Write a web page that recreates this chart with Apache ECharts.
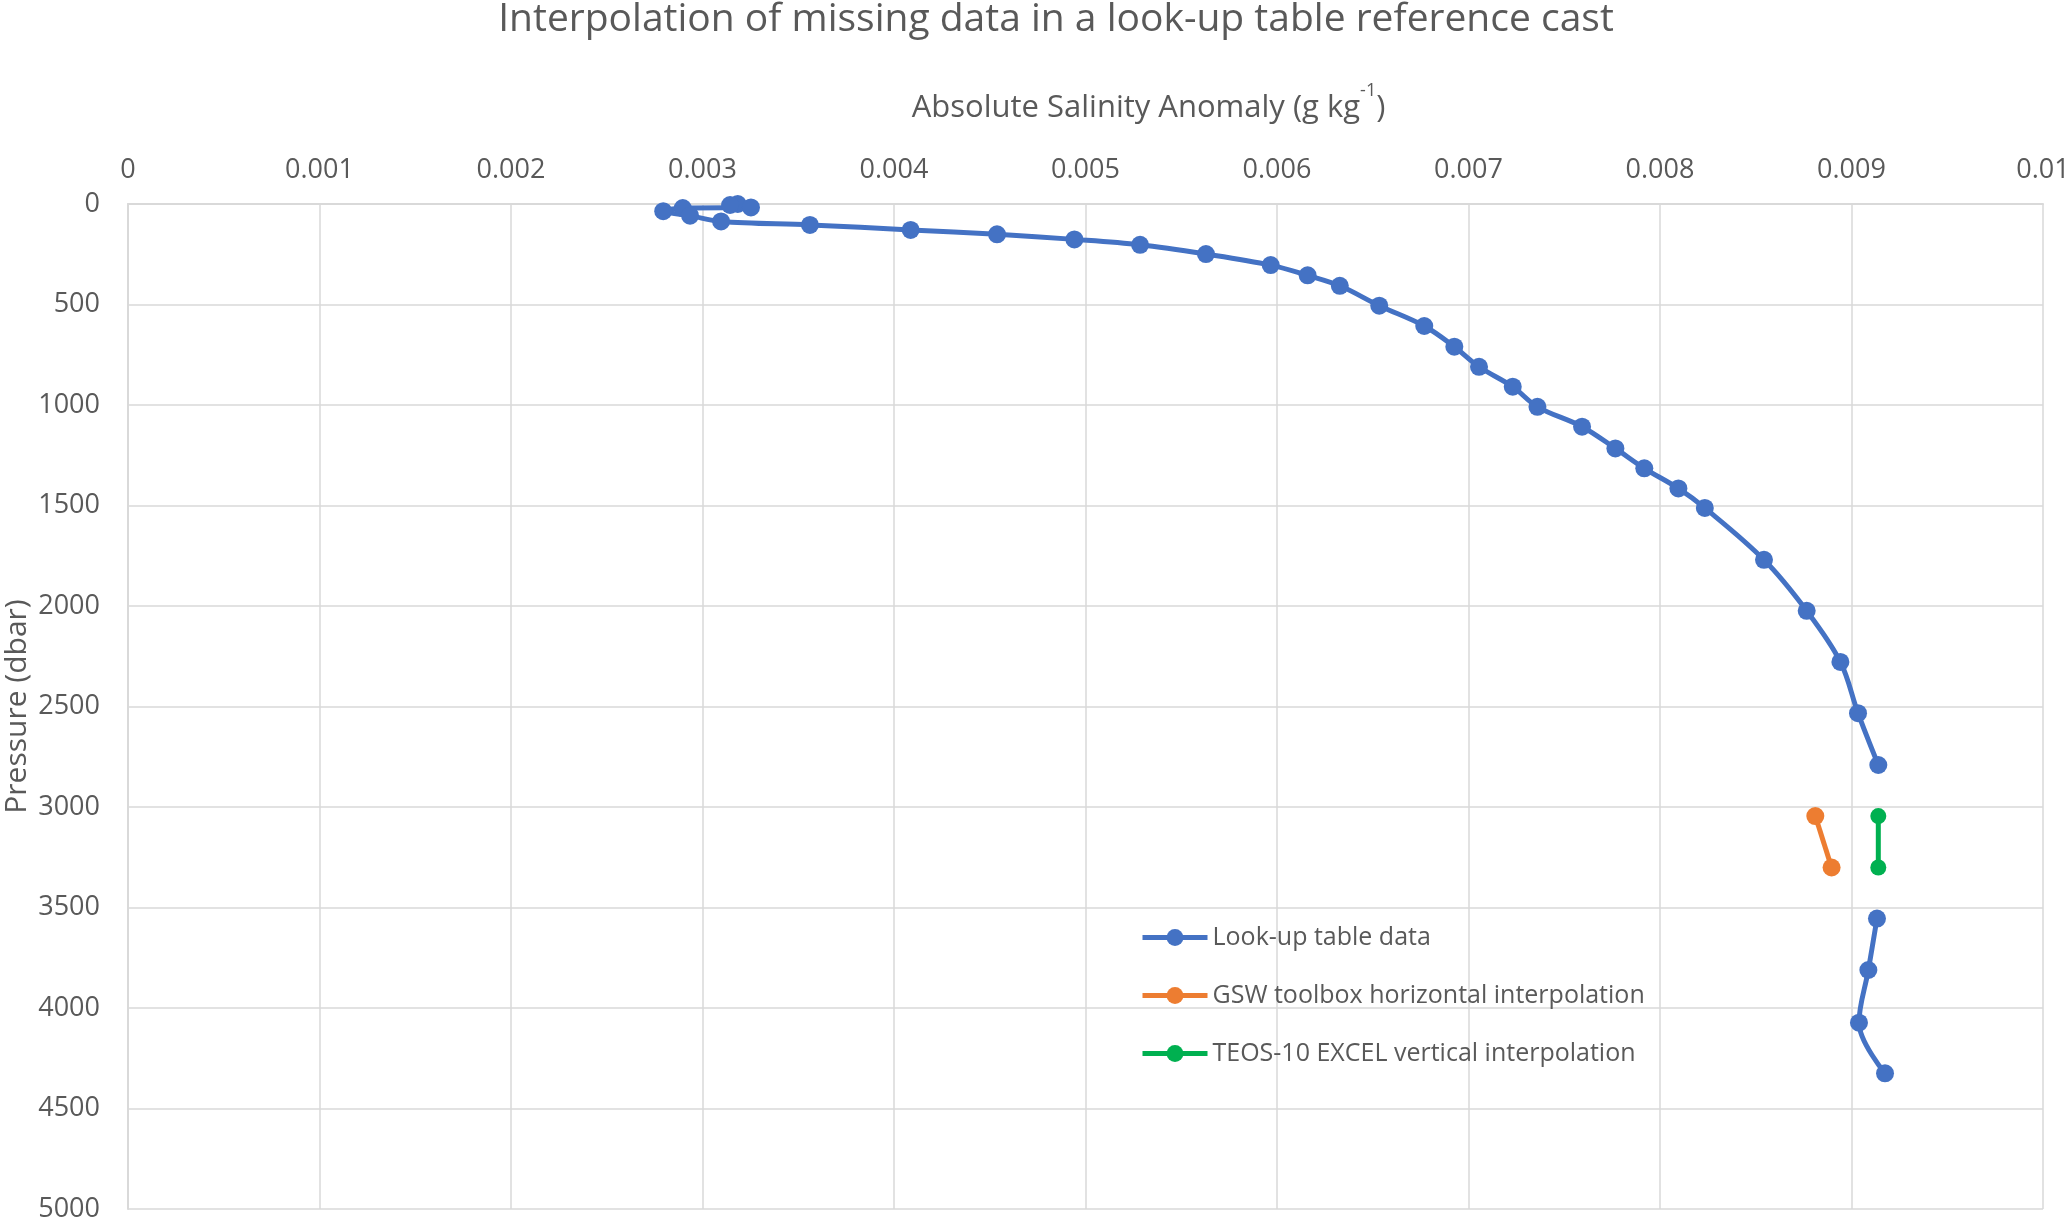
<!DOCTYPE html>
<html>
<head>
<meta charset="utf-8">
<script src="https://cdn.jsdelivr.net/npm/echarts@6/dist/echarts.min.js"></script>
<style>
html,body{margin:0;padding:0;background:#fff;}
#chart{width:2067px;height:1218px;}
</style>
</head>
<body>
<div id="chart"></div>
<script>
// Look-up table data (Absolute Salinity Anomaly, g/kg) and pressure (dbar); null = missing level
var lookupSA = [0.003184, 0.003144, 0.003253, 0.002897, 0.002795, 0.002935, 0.003097, 0.003561,
  0.004087, 0.004538, 0.004942, 0.005285, 0.005629, 0.005967, 0.006160, 0.006328, 0.006534,
  0.006769, 0.006926, 0.007055, 0.007231, 0.007360, 0.007593, 0.007767, 0.007918, 0.008096,
  0.008234, 0.008543, 0.008766, 0.008942, 0.009034, 0.009140, null, null, 0.009133, 0.009088, 0.009039, 0.009175];
var lookupP = [0, 5, 17, 20, 36, 58, 87, 104,
  129, 151, 176, 203, 249, 304, 355, 407, 506,
  607, 710, 810, 909, 1009, 1108, 1216, 1315, 1415,
  1512, 1770, 2024, 2278, 2533, 2791, 3045, 3301, 3555, 3811, 4073, 4325];
// GSW toolbox horizontal interpolation
var gswSA = [0.008811, 0.008896];
var gswP = [3045, 3301];
// TEOS-10 EXCEL vertical interpolation
var teosSA = [0.009140, 0.009140];
var teosP = [3045, 3301];

var seriesNames = ['Look-up table data', 'GSW toolbox horizontal interpolation', 'TEOS-10 EXCEL vertical interpolation'];
var xTicks = ['0', '0.001', '0.002', '0.003', '0.004', '0.005', '0.006', '0.007', '0.008', '0.009', '0.01'];

function pairs(xs, ys) {
  return xs.map(function (x, i) { return x === null ? ['-', ys[i]] : [x, ys[i]]; });
}

var FONT = '"Open Sans", "Noto Sans", sans-serif';
var TXT = '#595959';
var GRID = '#D9D9D9';

var chart = echarts.init(document.getElementById('chart'), null, {renderer: 'canvas'});
chart.setOption({
  animation: false,
  backgroundColor: '#ffffff',
  textStyle: {fontFamily: FONT},
  title: {
    text: 'Interpolation of missing data in a look-up table reference cast',
    left: 1056, top: 0, padding: 0, textAlign: 'center',
    textStyle: {fontFamily: FONT, fontSize: 39, fontWeight: 'normal', color: TXT}
  },
  grid: {left: 128, right: 24, top: 204, bottom: 9, containLabel: false, outerBoundsMode: 'none'},
  legend: {
    orient: 'vertical', left: 1140, top: 925, padding: 0,
    itemWidth: 65, itemHeight: 21, itemGap: 33,
    selectedMode: false,
    textStyle: {fontFamily: FONT, fontSize: 25, color: TXT},
    lineStyle: {width: 5},
    data: seriesNames
  },
  xAxis: {
    type: 'value', position: 'top', min: 0, max: 0.01, interval: 0.001,
    name: '{m|Absolute Salinity Anomaly (g kg}{s|-1}{m|)}',
    nameLocation: 'middle', nameGap: 80, nameMoveOverlap: false,
    nameTextStyle: {
      padding: [0, 0, 0, 126],
      rich: {
        m: {fontFamily: FONT, fontSize: 31, color: TXT, lineHeight: 42, verticalAlign: 'bottom'},
        s: {fontFamily: FONT, fontSize: 18, color: TXT, lineHeight: 22, verticalAlign: 'top'}
      }
    },
    axisLine: {show: true, lineStyle: {color: GRID, width: 2}},
    axisTick: {show: false},
    axisLabel: {
      margin: 20, fontFamily: FONT, fontSize: 27, color: TXT,
      formatter: function (v) { return xTicks[Math.round(v / 0.001)]; }
    },
    splitLine: {show: true, lineStyle: {color: GRID, width: 1.5}}
  },
  yAxis: {
    type: 'value', inverse: true, min: 0, max: 5000, interval: 500,
    name: 'Pressure (dbar)', nameLocation: 'middle', nameGap: 96, nameRotate: 90,
    nameMoveOverlap: false,
    nameTextStyle: {fontFamily: FONT, fontSize: 30, color: TXT},
    axisLine: {show: true, lineStyle: {color: GRID, width: 2}},
    axisTick: {show: false},
    axisLabel: {
      margin: 28, fontFamily: FONT, fontSize: 27, color: TXT,
      formatter: function (v) { return String(v); }
    },
    splitLine: {show: true, lineStyle: {color: GRID, width: 1.5}}
  },
  series: [
    {
      name: seriesNames[0], type: 'line', data: pairs(lookupSA, lookupP),
      smooth: 0.35, connectNulls: false,
      symbol: 'circle', symbolSize: 18, showSymbol: true, showAllSymbol: true,
      color: '#4472C4',
      lineStyle: {color: '#4472C4', width: 5},
      itemStyle: {color: '#4472C4'}
    },
    {
      name: seriesNames[1], type: 'line', data: pairs(gswSA, gswP),
      smooth: 0.35, symbol: 'circle', symbolSize: 18, showSymbol: true,
      color: '#ED7D31',
      lineStyle: {color: '#ED7D31', width: 5},
      itemStyle: {color: '#ED7D31'}
    },
    {
      name: seriesNames[2], type: 'line', data: pairs(teosSA, teosP),
      smooth: 0.35, symbol: 'circle', symbolSize: 16, showSymbol: true,
      color: '#00B050',
      lineStyle: {color: '#00B050', width: 5},
      itemStyle: {color: '#00B050'}
    }
  ]
});
</script>
</body>
</html>
